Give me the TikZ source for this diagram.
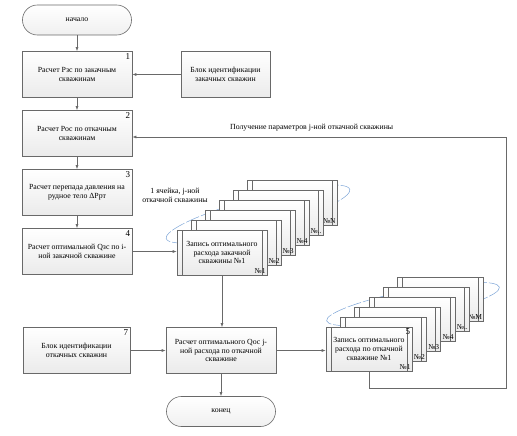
\documentclass[tikz,border=0pt]{standalone}
\usepackage{fontspec}
\setmainfont{Liberation Serif}
\usetikzlibrary{positioning,arrows.meta,calc}

\definecolor{linegray}{RGB}{105,105,105}
\definecolor{penblue}{RGB}{125,165,215}
\tikzset{
  base/.style={draw=linegray, line width=0.6pt, align=center, inner sep=2pt,
    font=\fontsize{7.8}{8.8}\selectfont},
  proc/.style={base, rectangle, top color=white, bottom color=gray!16,
    minimum width=110pt, minimum height=46pt},
  term/.style={base, rectangle, rounded corners=14.9pt, top color=white,
    bottom color=gray!12, minimum width=109pt, minimum height=30pt},
  recbox/.style={proc, minimum width=90pt, minimum height=45pt,
    path picture={
      \draw[linegray, line width=0.6pt]
        ([xshift=5pt]path picture bounding box.north west) --
        ([xshift=5pt]path picture bounding box.south west)
        ([xshift=-5pt]path picture bounding box.north east) --
        ([xshift=-5pt]path picture bounding box.south east);}},
  num/.style={anchor=north east, inner sep=2pt, font=\fontsize{9}{9}\selectfont},
  numb/.style={anchor=south east, inner sep=1.5pt, font=\fontsize{7.5}{8}\selectfont},
  flow/.style={draw=linegray, line width=0.6pt, ->},
  pen/.style={draw=penblue, line width=0.5pt, dash pattern=on 14pt off 2pt},
  note/.style={font=\fontsize{7.8}{8.8}\selectfont, align=center, inner sep=1pt}
}

\begin{document}
\begin{tikzpicture}[x=1pt,y=-1pt,node distance=59pt,on grid,>={Latex[length=4pt,width=3pt]}]
\useasboundingbox (0,0) rectangle (517,436);

% left column
\node[term] (start) at (77,20) {начало};
\node[proc, below=54.5pt of start, label={[num]north east:1}] (calcPz) {Расчет Рзс по закачным\\скважинам};
\node[proc, minimum width=89pt, right=148.5pt of calcPz] (identZ) {Блок идентификации\\закачных скважин};
\node[proc, below=of calcPz, label={[num]north east:2}] (calcPo) {Расчет Рос по откачным\\скважинам};
\node[proc, below=of calcPo, label={[num]north east:3}] (calcDP) {Расчет перепада давления на\\рудное тело ΔРрт};
\node[proc, below=of calcDP, label={[num]north east:4}] (calcQz) {Расчет оптимальной Qзс по i-\\ной закачной скважине};

% first stack of cells
\coordinate (recZ) at (222,252.5);
\draw[pen, rotate around={15:(258,214)}] (258,214) ellipse [x radius=95, y radius=16];
\foreach \i/\lbl in {5/N,4/..,3/4,2/3,1/2}
  \node[recbox, label={[numb]south east:№\lbl}] (recZ-\i) at ([shift={(14*\i,-10*\i)}]recZ) {};
\node[recbox, label={[numb]south east:№1}] (recZ-0) at (recZ)
  {Запись оптимального\\расхода закачной\\скважины №1};
\node[note] (cellnote) at (175,195) {1 ячейка, j-ной\\откачной скважины};

% bottom row
\node[proc] (calcQo) at (221,350.5) {Расчет оптимального Qос j-\\ной расхода по откачной\\скважине};
\node[proc, minimum width=107pt, left=144.5pt of calcQo, label={[num]north east:7}] (identO) {Блок идентификации\\откачных скважин};
\node[term, below=61pt of calcQo] (stop) {конец};

% second stack of cells
\coordinate (recO) at (369,349);
\draw[pen, rotate around={11:(413,304)}] (413,304) ellipse [x radius=88, y radius=14];
\foreach \i/\lbl in {5/M,4/..,3/4,2/3,1/2}
  \node[recbox, minimum width=86pt, minimum height=44pt, label={[numb]south east:№\lbl}] (recO-\i) at ([shift={(14.3*\i,-10*\i)}]recO) {};
\node[recbox, minimum width=86pt, minimum height=44pt, label={[numb]south east:№1}, label={[num]north east:5}] (recO-0) at (recO)
  {Запись оптимального\\расхода по откачной\\скважине №1};

% connectors
\draw[flow] (start) -- (calcPz);
\draw[flow] (calcPz) -- (calcPo);
\draw[flow] (calcPo) -- (calcDP);
\draw[flow] (calcDP) -- (calcQz);
\draw[flow] (identZ) -- (calcPz);
\draw[flow] (calcQz) -- (calcQz -| recZ-0.west);
\draw[flow] (recZ-0.south) -- (recZ-0.south |- calcQo.north);
\draw[flow] (identO) -- (calcQo);
\draw[flow] (calcQo) -- (stop);
\draw[flow] (calcQo) -- (calcQo -| recO-0.west);
\coordinate (loopbot) at (506,388);
\coordinate (looptop) at (506,137);
\draw[flow] (recO-0.south) |- (loopbot) -- (looptop)
  -- node[note, above=5pt, pos=0.52] {Получение параметров j-ной откачной скважины} (looptop -| calcPo.east);
\end{tikzpicture}
\end{document}
